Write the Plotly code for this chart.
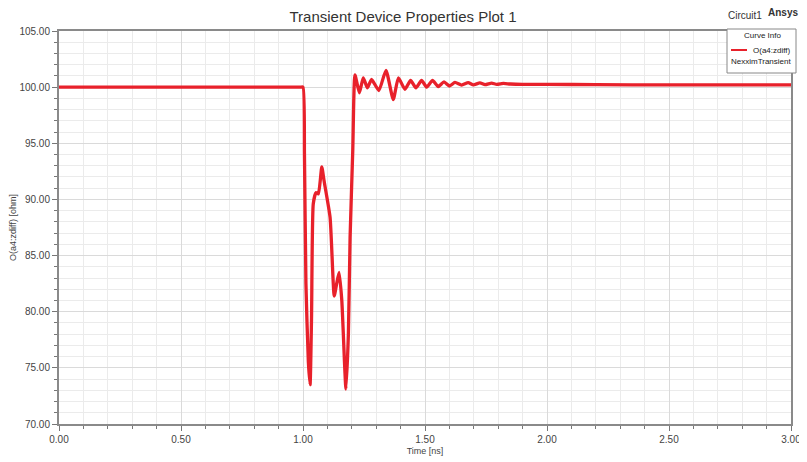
import plotly.graph_objects as go

time_ns = [0.0, 0.5, 0.99, 1.000, 1.006, 1.012, 1.022, 1.029, 1.035, 1.042, 1.053, 1.063,
           1.077, 1.086, 1.111, 1.128, 1.138, 1.148, 1.159, 1.176, 1.186, 1.193, 1.204,
           1.213, 1.231, 1.247, 1.264, 1.281, 1.311, 1.340, 1.370, 1.391, 1.418, 1.441,
           1.463, 1.486, 1.507, 1.531, 1.554, 1.578, 1.600, 1.623, 1.650, 1.677, 1.698,
           1.725, 1.746, 1.773, 1.794, 1.821, 1.85, 1.90, 2.00, 2.20, 2.50, 2.70, 3.00]
zdiff_ohm = [100.0, 100.0, 100.0, 100.0, 94.0, 82.5, 75.5, 73.5, 79.5, 89.6, 90.6, 90.5,
             92.9, 91.7, 88.4, 81.4, 82.5, 83.5, 81.0, 73.1, 78.0, 86.6, 94.4,
             101.1, 99.5, 100.83, 99.94, 100.69, 99.7, 101.5, 98.9, 100.83, 99.8, 100.6,
             99.94, 100.6, 100.0, 100.6, 100.05, 100.47, 100.1, 100.42, 100.18, 100.4, 100.2,
             100.38, 100.22, 100.36, 100.25, 100.33, 100.28, 100.25, 100.25, 100.22, 100.2, 100.2, 100.2]

x_tickvals = [0.0, 0.5, 1.0, 1.5, 2.0, 2.5, 3.0]
x_ticktext = ["0.00", "0.50", "1.00", "1.50", "2.00", "2.50", "3.00"]
y_tickvals = [70, 75, 80, 85, 90, 95, 100, 105]
y_ticktext = ["70.00", "75.00", "80.00", "85.00", "90.00", "95.00", "100.00", "105.00"]

# The page body has an 8px margin; size the figure so it fits the window.
OFF = 8
W, H = 807 - OFF, 462 - OFF
L, R, T, B = 59 - OFF, 16, 31 - OFF, 38
PW, PH = W - L - R, H - T - B


def px(x):
    return (x - OFF - L) / PW


def py(y):
    return (H - B - (y - OFF)) / PH


LINE_COLOR = "#e8212b"

fig = go.Figure()
fig.add_trace(go.Scatter(
    x=time_ns, y=zdiff_ohm, mode="lines",
    name="O(a4:zdiff)",
    line=dict(color=LINE_COLOR, width=3.3, shape="spline", smoothing=0.5),
    showlegend=False,
))

fig.update_layout(
    width=W, height=H,
    margin=dict(l=L, r=R, t=T, b=B, autoexpand=False),
    paper_bgcolor="white", plot_bgcolor="white",
    font=dict(family="Liberation Sans, Arial, sans-serif", color="#444444", size=10),
    title=dict(text="Transient Device Properties Plot 1", x=(403 - OFF) / W, xanchor="center",
               y=1 - (17 - OFF) / H, yanchor="middle",
               font=dict(size=15, color="#333333")),
    showlegend=False,
    xaxis=dict(
        range=[0, 3], tickvals=x_tickvals, ticktext=x_ticktext, automargin=False,
        showgrid=True, gridcolor="#dadada", gridwidth=1,
        ticks="outside", ticklen=5, tickcolor="#777777",
        showline=True, linecolor="#8a8a8a", linewidth=2, mirror=True,
        zeroline=False,
        minor=dict(dtick=0.1, showgrid=True, gridcolor="#ebebeb", ticks="outside",
                   ticklen=3, tickcolor="#777777"),
        title=dict(text="Time [ns]", font=dict(size=9, color="#444444"), standoff=4),
        tickfont=dict(size=10, color="#444444"),
    ),
    yaxis=dict(
        range=[70, 105], tickvals=y_tickvals, ticktext=y_ticktext, automargin=False,
        showgrid=True, gridcolor="#dadada", gridwidth=1,
        ticks="outside", ticklen=5, tickcolor="#777777",
        showline=True, linecolor="#8a8a8a", linewidth=2, mirror=True,
        zeroline=False,
        minor=dict(dtick=1, showgrid=True, gridcolor="#ebebeb", ticks="outside",
                   ticklen=3, tickcolor="#777777"),
        title=dict(text="O(a4:zdiff) [ohm]", font=dict(size=9, color="#444444"), standoff=4),
        tickfont=dict(size=10, color="#444444"),
    ),
)

# Header texts
fig.add_annotation(text="Circuit1", xref="paper", yref="paper",
                   x=px(745), y=py(15), xanchor="center", yanchor="middle",
                   showarrow=False, font=dict(size=10, color="#333333"))
fig.add_annotation(text="<b>Ansys</b>", xref="paper", yref="paper",
                   x=px(783), y=py(13), xanchor="center", yanchor="middle",
                   showarrow=False, font=dict(size=10, color="#333333"))

# Curve Info box (legend)
fig.add_shape(type="rect", xref="paper", yref="paper",
              x0=px(727), x1=px(796), y0=py(29), y1=py(73),
              line=dict(color="#888888", width=1), fillcolor="white", layer="above")
fig.add_shape(type="line", xref="paper", yref="paper",
              x0=px(731), x1=px(747), y0=py(50), y1=py(50),
              line=dict(color=LINE_COLOR, width=2), layer="above")
fig.add_annotation(text="Curve Info", xref="paper", yref="paper",
                   x=px(762), y=py(36), xanchor="center", yanchor="middle",
                   showarrow=False, font=dict(size=8, color="#222222"))
fig.add_annotation(text="O(a4:zdiff)", xref="paper", yref="paper",
                   x=px(793), y=py(50), xanchor="right", yanchor="middle",
                   showarrow=False, font=dict(size=8, color="#222222"))
fig.add_annotation(text="NexximTransient", xref="paper", yref="paper",
                   x=px(793), y=py(62), xanchor="right", yanchor="middle",
                   showarrow=False, font=dict(size=8, color="#222222"))

fig.write_html("out.html")
